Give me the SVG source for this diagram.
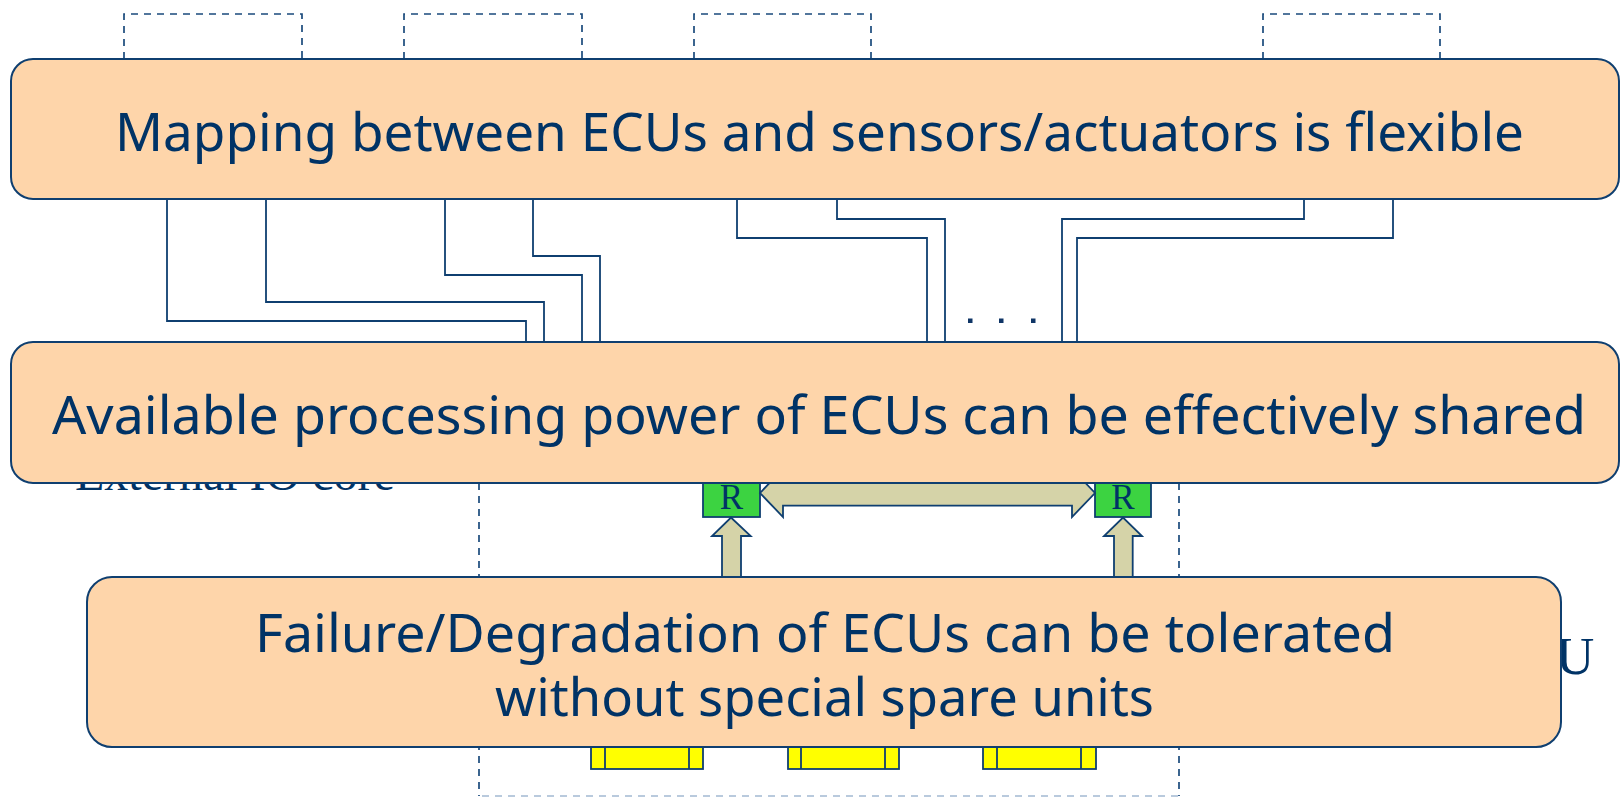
<svg xmlns="http://www.w3.org/2000/svg" width="1620" height="797" viewBox="0 0 1620 797">
  <defs>
    <style>
      .dash { fill: none; stroke: #1a4a7c; stroke-width: 1.7; stroke-dasharray: 7 6; }
      .dash-light { fill: none; stroke: #a3b9d2; stroke-width: 1.7; stroke-dasharray: 7 6; }
      .wire { fill: none; stroke: #0f3f70; stroke-width: 1.8; stroke-linejoin: miter; }
      .callout { fill: #fed5aa; stroke: #0f3f70; stroke-width: 2; }
      .callout-text { font-family: "Noto Sans", "DejaVu Sans", sans-serif; font-size: 52px; fill: #003366; }
      .serif-text { font-family: "Liberation Serif", "Times New Roman", serif; fill: #003366; }
      .router { fill: #3cd341; stroke: #0f3f70; stroke-width: 1.8; }
      .link { fill: #d5d3a8; stroke: #0f3f70; stroke-width: 1.8; stroke-linejoin: miter; }
      .io { fill: #ffff00; stroke: #0f3f70; stroke-width: 1.8; }
      .dot { fill: #0f3566; }
    </style>
  </defs>

  <!-- sensor / actuator slots (dashed outlines) -->
  <g id="slot-1"><path class="dash" d="M124,59 V14 H302 V59"/></g>
  <g id="slot-2"><path class="dash" d="M404,59 V14 H582 V59"/></g>
  <g id="slot-3"><path class="dash" d="M694,59 V14 H871 V59"/></g>
  <g id="slot-4"><path class="dash" d="M1263,59 V14 H1440 V59"/></g>

  <!-- ECU outline (dashed) -->
  <g id="ecu-outline">
    <path class="dash" d="M479,470 V796"/>
    <path class="dash" d="M1179,470 V796"/>
    <path class="dash-light" d="M482,796 H1179"/>
  </g>

  <!-- partly hidden labels -->
  <g id="label-external-io">
    <text class="serif-text" x="75" y="490" font-size="48">External IO core</text>
  </g>
  <g id="label-ecu">
    <text class="serif-text" x="1556" y="674" font-size="53">U</text>
  </g>

  <!-- I/O blocks -->
  <g id="io-block-1">
    <rect class="io" x="591" y="740" width="112" height="29"/>
    <path class="wire" d="M605,740 V769 M689,740 V769"/>
  </g>
  <g id="io-block-2">
    <rect class="io" x="788" y="740" width="111" height="29"/>
    <path class="wire" d="M801,740 V769 M885,740 V769"/>
  </g>
  <g id="io-block-3">
    <rect class="io" x="983" y="740" width="113" height="29"/>
    <path class="wire" d="M997,740 V769 M1081,740 V769"/>
  </g>

  <!-- routers -->
  <g id="router-left">
    <rect class="router" x="703" y="470" width="57" height="47"/>
    <text class="serif-text" x="731.5" y="509" font-size="35" text-anchor="middle">R</text>
  </g>
  <g id="router-right">
    <rect class="router" x="1095" y="470" width="56" height="47"/>
    <text class="serif-text" x="1123" y="509" font-size="35" text-anchor="middle">R</text>
  </g>

  <!-- connectors -->
  <g id="connectors">
    <!-- wiring between sensors/actuators and ECUs -->
    <polyline class="wire" points="167,199 167,321 526,321 526,343"/>
    <polyline class="wire" points="266,199 266,302 544,302 544,343"/>
    <polyline class="wire" points="445,199 445,275 582,275 582,343"/>
    <polyline class="wire" points="533,199 533,256 600,256 600,343"/>
    <polyline class="wire" points="737,199 737,238 927,238 927,343"/>
    <polyline class="wire" points="837,199 837,219 945,219 945,343"/>
    <polyline class="wire" points="1304,199 1304,219 1062,219 1062,343"/>
    <polyline class="wire" points="1393,199 1393,238 1077,238 1077,343"/>
    <!-- ellipsis between wires -->
    <rect class="dot" x="968" y="318.5" width="4.5" height="4.5"/>
    <rect class="dot" x="999" y="318.5" width="4.5" height="4.5"/>
    <rect class="dot" x="1031" y="318.5" width="4.5" height="4.5"/>
    <!-- router-to-router link -->
    <polygon class="link" points="760,493 783,469 783,481 1072,481 1072,469 1095,493 1072,517 1072,505.7 783,505.7 783,517"/>
    <!-- uplinks into routers -->
    <polygon class="link" points="722,582 722,536 712,536 731,517.5 750.7,536 741,536 741,582"/>
    <polygon class="link" points="1114,582 1114,536 1104,536 1123,517.5 1142,536 1132.7,536 1132.7,582"/>
  </g>

  <!-- callouts -->
  <g id="callout-mapping">
    <rect class="callout" x="11" y="59" width="1608" height="140" rx="22" ry="22"/>
    <text class="callout-text" x="115" y="151" textLength="1409" lengthAdjust="spacingAndGlyphs">Mapping between ECUs and sensors/actuators is flexible</text>
  </g>
  <g id="callout-sharing">
    <rect class="callout" x="11" y="342" width="1608" height="141" rx="22" ry="22"/>
    <text class="callout-text" x="52" y="434" textLength="1534" lengthAdjust="spacingAndGlyphs">Available processing power of ECUs can be effectively shared</text>
  </g>
  <g id="callout-tolerance">
    <rect class="callout" x="87" y="577" width="1474" height="170" rx="25" ry="25"/>
    <text class="callout-text" x="255" y="652" textLength="1140" lengthAdjust="spacingAndGlyphs">Failure/Degradation of ECUs can be tolerated</text>
    <text class="callout-text" x="495" y="716" textLength="659" lengthAdjust="spacingAndGlyphs">without special spare units</text>
  </g>
</svg>
